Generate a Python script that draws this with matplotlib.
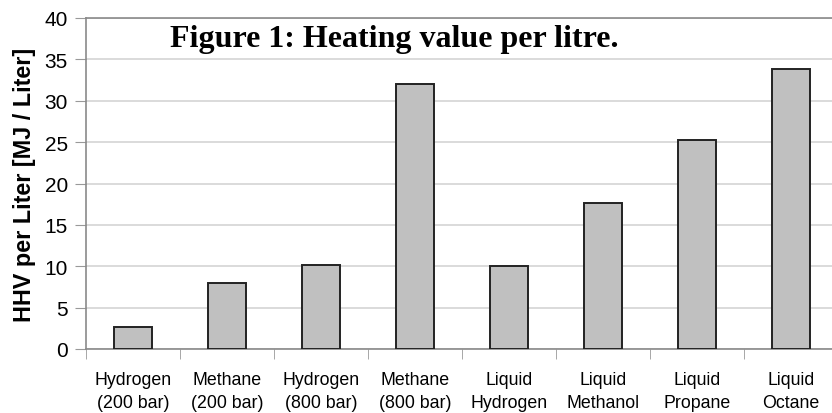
import matplotlib.pyplot as plt
import numpy as np

fuels = [
    "Hydrogen\n(200 bar)",
    "Methane\n(200 bar)",
    "Hydrogen\n(800 bar)",
    "Methane\n(800 bar)",
    "Liquid\nHydrogen",
    "Liquid\nMethanol",
    "Liquid\nPropane",
    "Liquid\nOctane",
]
hhv = [2.6, 8.0, 10.2, 32.0, 10.0, 17.6, 25.2, 33.8]
y_ticks = [0, 5, 10, 15, 20, 25, 30, 35, 40]


def make_plot():
    fig = plt.figure(figsize=(8.32, 4.14), dpi=100)
    ax = fig.add_axes([86 / 832, 1 - 350 / 414, 752 / 832, 331 / 414])

    x = np.arange(len(fuels))
    ax.bar(x, hhv, width=0.41, color="#c0c0c0", edgecolor="#222222",
           linewidth=1.4, zorder=3)

    ax.set_xlim(-0.5, len(fuels) - 0.5)
    ax.set_ylim(0, 40)
    ax.set_yticks(y_ticks)
    ax.yaxis.grid(True, color="#d4d4d4", linewidth=1.2, zorder=0)

    # labels at bar centres, small tick marks between categories
    ax.set_xticks(x)
    ax.set_xticklabels(fuels, fontsize=12.8, family="Liberation Sans",
                       linespacing=1.45)
    ax.set_xticks(np.arange(len(fuels) + 1) - 0.5, minor=True)
    ax.tick_params(axis="x", which="major", length=0, pad=16)
    ax.tick_params(axis="x", which="minor", length=7, color="#999999")
    ax.tick_params(axis="y", length=8, color="#999999", pad=5,
                   labelsize=15)
    for lab in ax.get_yticklabels():
        lab.set_family("Liberation Sans")

    for side in ["left", "bottom", "top"]:
        ax.spines[side].set_color("#8a8a8a")
        ax.spines[side].set_linewidth(1.2)
    ax.spines["right"].set_visible(False)

    ax.set_ylabel("HHV per Liter [MJ / Liter]", fontsize=16.8,
                  fontweight="bold", family="Liberation Sans", labelpad=6)

    fig.text(170 / 832, 1 - 47 / 414, "Figure 1: Heating value per litre.",
             fontsize=23, fontweight="bold", family="Liberation Serif",
             va="baseline", ha="left")

    plt.savefig("out.png", dpi=100)


make_plot()
